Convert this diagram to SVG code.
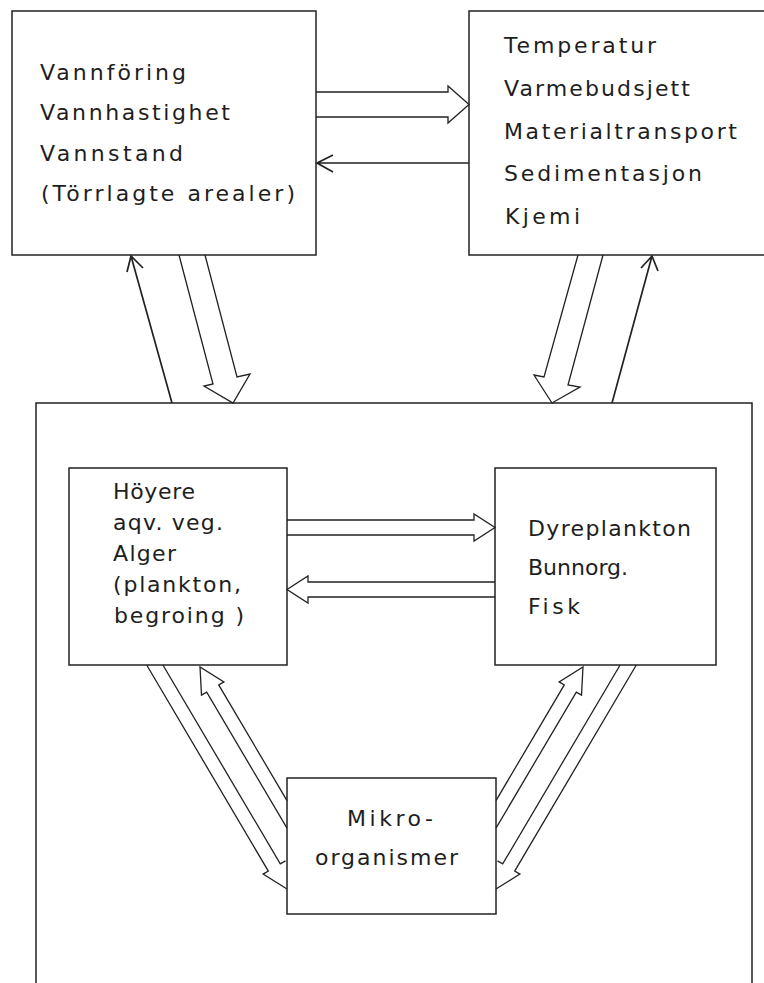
<svg xmlns="http://www.w3.org/2000/svg" width="764" height="983" viewBox="0 0 764 983">
<style>
  .box { fill: none; stroke: #222; stroke-width: 1.5; }
  .conn { fill: none; stroke: #222; stroke-width: 1.3; stroke-linejoin: miter; }
  .thin { fill: none; stroke: #222; stroke-width: 1.7; }
  text { font-family: "DejaVu Sans", "Liberation Sans", sans-serif; font-size: 22px; fill: #1e1e1e; }
</style>
<rect width="764" height="983" fill="#ffffff"/>

<g id="node-hydrologi">
  <rect class="box" x="12" y="11" width="304" height="244"/>
  <text x="40" y="80" textLength="146" lengthAdjust="spacing">Vannföring</text>
  <text x="40" y="120" textLength="190" lengthAdjust="spacing">Vannhastighet</text>
  <text x="40" y="161" textLength="143" lengthAdjust="spacing">Vannstand</text>
  <text x="41" y="201" textLength="254" lengthAdjust="spacing">(Törrlagte arealer)</text>
</g>

<g id="node-fysikk-kjemi">
  <rect class="box" x="469" y="11" width="310" height="244"/>
  <text x="504" y="53" textLength="152" lengthAdjust="spacing">Temperatur</text>
  <text x="504" y="96" textLength="186" lengthAdjust="spacing">Varmebudsjett</text>
  <text x="504" y="139" textLength="233" lengthAdjust="spacing">Materialtransport</text>
  <text x="504" y="181" textLength="198" lengthAdjust="spacing">Sedimentasjon</text>
  <text x="505" y="224" textLength="75" lengthAdjust="spacing">Kjemi</text>
</g>

<g id="node-biologi">
  <path class="box" d="M36 990 V403 H752 V990"/>
</g>

<g id="node-planter">
  <rect class="box" x="69" y="468" width="218" height="197"/>
  <text x="113" y="499" textLength="82" lengthAdjust="spacing">Höyere</text>
  <text x="113" y="530" textLength="110" lengthAdjust="spacing">aqv. veg.</text>
  <text x="113" y="561" textLength="63" lengthAdjust="spacing">Alger</text>
  <text x="113" y="592" textLength="128" lengthAdjust="spacing">(plankton,</text>
  <text x="114" y="623" textLength="130" lengthAdjust="spacing">begroing )</text>
</g>

<g id="node-dyr">
  <rect class="box" x="495" y="468" width="221" height="197"/>
  <text x="528" y="536" textLength="163" lengthAdjust="spacing">Dyreplankton</text>
  <text x="528" y="575" textLength="100" lengthAdjust="spacing">Bunnorg.</text>
  <text x="528" y="614" textLength="52" lengthAdjust="spacing">Fisk</text>
</g>

<g id="node-mikro">
  <rect class="box" x="287" y="778" width="209" height="136"/>
  <text x="347" y="826" textLength="86" lengthAdjust="spacing">Mikro-</text>
  <text x="315" y="865" textLength="143" lengthAdjust="spacing">organismer</text>
</g>

<g id="connectors">
  <path class="conn" d="M316 92 H448 V86 L469 104.5 L448 123 V117 H316"/>
  <path class="thin" d="M469 163 H317 M333 155 L317 163 L333 172"/>
  <path class="thin" d="M172 403 L131 256 M127 272 L131 256 L143 268"/>
  <path class="conn" d="M179 255 L213 384 L204 386 L233 403 L250 374 L237 377 L205 255"/>
  <path class="conn" d="M578 255 L544 377 L534 375 L552 403 L580 387 L568 385 L603 255"/>
  <path class="thin" d="M612 403 L652 256 M641 268 L652 256 L658 271"/>
  <path class="conn" d="M287 520 H474 V514 L495 527.5 L474 541 V535 H287"/>
  <path class="conn" d="M495 582 H308 V576 L287 589.5 L308 603 V597 H495"/>
  <path class="conn" d="M146.7 665 L268.3 871.1 L263.1 874.1 L287 889 M162.9 665 L280.3 863.9 L285.5 860.9"/>
  <path class="conn" d="M287 828.2 L206.7 692.1 L201.5 695.1 L200 667 L223.9 681.9 L218.7 684.9 L287 800.6"/>
  <path class="conn" d="M636.3 665 L514.7 871.1 L519.9 874.1 L496 889 M620.1 665 L502.7 863.9 L497.5 860.9"/>
  <path class="conn" d="M496 828.2 L576.3 692.1 L581.5 695.1 L583 667 L559.1 681.9 L564.3 684.9 L496 800.6"/>
</g>
</svg>
